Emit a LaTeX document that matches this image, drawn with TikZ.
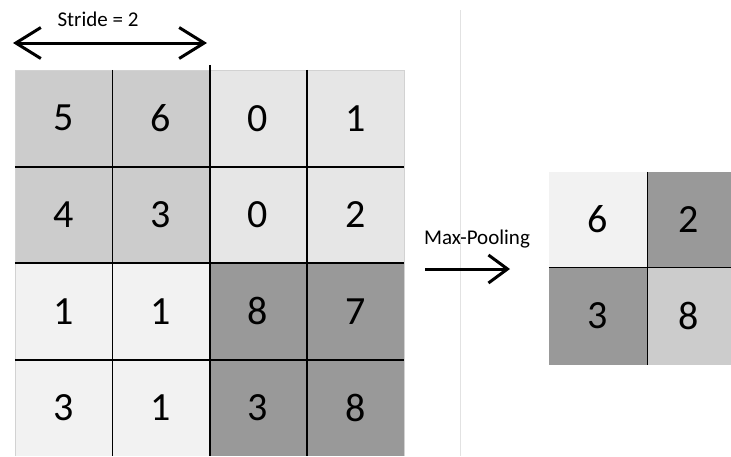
\documentclass[tikz,border=0pt]{standalone}
\usepackage{fontspec}
\setmainfont{Carlito}
\usetikzlibrary{arrows.meta,calc}
\definecolor{cellA}{HTML}{CCCCCC}
\definecolor{cellB}{HTML}{E6E6E6}
\definecolor{cellC}{HTML}{F2F2F2}
\definecolor{cellD}{HTML}{999999}
\definecolor{sepgray}{HTML}{E2E2E2}
\tikzset{
  cell/.style={rectangle, inner sep=0pt, minimum width=97.25pt, minimum height=96.5pt,
    font=\fontsize{40}{42}\selectfont},
  outcell/.style={rectangle, inner sep=0pt, font=\fontsize{40}{42}\selectfont},
  gridline/.style={line width=1.6pt, black},
  label/.style={font=\fontsize{21}{23}\selectfont, inner sep=0pt}
}
\begin{document}
\begin{tikzpicture}[x=1pt,y=-1pt]
\useasboundingbox (0,0) rectangle (731,456);
\fill[white] (0,0) rectangle (731,456);

% separator between input and output
\coordinate (septop) at (460,10);
\coordinate (sepbot) at (460,456);
\draw[sepgray, line width=1pt] (septop) -- (sepbot);

% 4x4 input feature map
\foreach \r/\y in {0/118.25, 1/214.75, 2/311.25, 3/407.75}{
  \foreach \c/\x in {0/63.625, 1/160.875, 2/258.125, 3/355.375}{
    \coordinate (p\r\c) at (\x,\y);
  }
}
\node[cell, fill=cellA] (a00) at (p00) {5};
\node[cell, fill=cellA] (a01) at (p01) {6};
\node[cell, fill=cellB] (a02) at (p02) {0};
\node[cell, fill=cellB] (a03) at (p03) {1};
\node[cell, fill=cellA] (a10) at (p10) {4};
\node[cell, fill=cellA] (a11) at (p11) {3};
\node[cell, fill=cellB] (a12) at (p12) {0};
\node[cell, fill=cellB] (a13) at (p13) {2};
\node[cell, fill=cellC] (a20) at (p20) {1};
\node[cell, fill=cellC] (a21) at (p21) {1};
\node[cell, fill=cellD] (a22) at (p22) {8};
\node[cell, fill=cellD] (a23) at (p23) {7};
\node[cell, fill=cellC] (a30) at (p30) {3};
\node[cell, fill=cellC] (a31) at (p31) {1};
\node[cell, fill=cellD] (a32) at (p32) {3};
\node[cell, fill=cellD] (a33) at (p33) {8};

% faint outer edge
\draw[gray!35, line width=0.6pt] (a00.north west) -- (a03.north east) -- (a33.south east);
\draw[gray!35, line width=0.6pt] (a00.north west) -- (a30.south west);

% inner grid lines
\draw[gridline] (a00.north east) -- (a30.south east);
\coordinate (midtop) at ($(a01.north east)+(0,-5)$);
\draw[gridline] (midtop) -- (a31.south east);
\draw[gridline] (a02.north east) -- (a32.south east);
\draw[gridline] (a00.south west) -- (a03.south east);
\draw[gridline] (a10.south west) -- (a13.south east);
\draw[gridline] (a20.south west) -- (a23.south east);

% stride arrow
\coordinate (sl) at (13,43);
\coordinate (sr) at (207,43);
\draw[line width=3pt, {Straight Barb[length=25pt, width=31pt, line width=3pt]}-{Straight Barb[length=25pt, width=31pt, line width=3pt]}] (sl) -- (sr);
\node[label] (stride) at (98,19) {Stride = 2};

% max-pooling arrow
\node[label] (mp) at (477,239) {Max-Pooling};
\coordinate (ml) at (425,269);
\coordinate (mr) at (510,269);
\draw[line width=3pt, -{Straight Barb[length=19pt, width=28pt, line width=3pt]}] (ml) -- (mr);

% 2x2 pooled output
\node[outcell, fill=cellC, minimum width=98pt, minimum height=95pt] (b00) at (598,219.5) {6};
\node[outcell, fill=cellD, minimum width=84pt, minimum height=95pt] (b01) at (689,219.5) {2};
\node[outcell, fill=cellD, minimum width=98pt, minimum height=98pt] (b10) at (598,316) {3};
\node[outcell, fill=cellA, minimum width=84pt, minimum height=98pt] (b11) at (689,316) {8};
\draw[gridline, line width=1.4pt] (b00.north east) -- (b10.south east);
\draw[gridline, line width=1.4pt] (b00.south west) -- (b01.south east);
\end{tikzpicture}
\end{document}
